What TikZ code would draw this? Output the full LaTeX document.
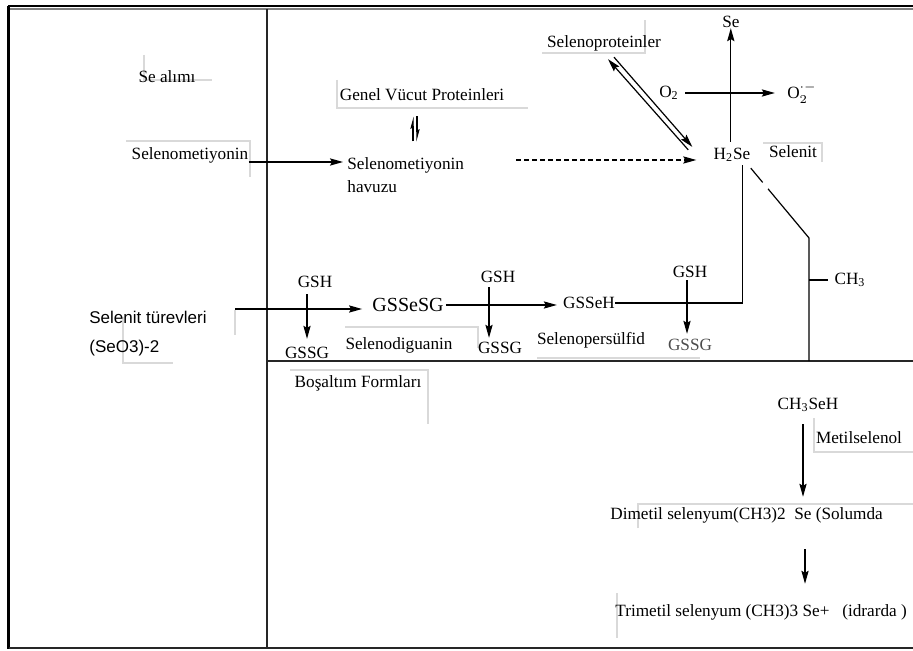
\documentclass[tikz,border=0pt]{standalone}
\usepackage{fontspec}
\setmainfont{Liberation Serif}
\newfontfamily\uifont{Liberation Sans}
\usetikzlibrary{arrows.meta,calc}
\tikzset{
  arr/.style={-{Stealth[length=6.5pt,width=3.6pt,inset=1pt]},line width=0.6pt},
  hup/.style={-{Stealth[harpoon,length=5pt,width=2.6pt,inset=0.6pt]},line width=0.6pt},
  frag/.style={gray!30,line width=0.6pt},
  rule/.style={line width=0.7pt,black!85}
}
\begin{document}
\begin{tikzpicture}[x=0.5pt,y=-0.5pt,font=\fontsize{8.6}{11.5}\selectfont,every node/.style={inner sep=0pt}]
\useasboundingbox (0,0) rectangle (913,651);
% frame and panels
\draw[line width=1.6pt] (8.5,6) -- (8.5,649);
\draw[line width=0.8pt] (8,6) -- (913,6);
\draw[line width=0.8pt,gray] (10,9) -- (913,9);
\draw[rule] (9,648) -- (913,648);
\draw[rule] (267,9) -- (267,648);
\draw[rule] (267,361) -- (913,361);
% left of text boxes
\draw[frag] (144,55)--(144,80)--(212,80) (337,80)--(337,108)--(528,108) (126,141)--(250,141)--(250,177)
  (542,53)--(645,53)--(645,20) (763,143)--(822,143)--(822,162) (123,317)--(123,363)--(173,363) (235,310)--(235,335)
  (345,327)--(478,327)--(478,348) (290,370)--(428,370)--(428,424) (537,358)--(700,358)
  (814,418)--(814,452)--(913,452) (638,528)--(638,504)--(913,504) (617,593)--(617,638);
% upper panel
\node (alim) at (167,77) {Se alımı};
\node (genel) at (422,95) {Genel Vücut Proteinleri};
\node (semet) at (190,155) {Selenometiyonin};
\node[anchor=west,align=left] (havuz) at (347,175) {Selenometiyonin\\havuzu};
\node (sprot) at (604,43) {Selenoproteinler};
\node (se) at (731,22) {Se};
\node (o2) at (669,93) {O\textsubscript{2}};
\node (o2r) at (802,93) {O$_2^{\cdot-}$};
\node (h2se) at (732,155) {H\textsubscript{2}Se};
\node (selenit) at (793,152) {Selenit};
\draw[arr,shorten >=2pt] ([yshift=-3.5pt]semet.east) -- ([yshift=-3.5pt]semet.east -| havuz.west);
\draw[hup] ($(genel.south)+(-9,40)$) -- ($(genel.south)+(-9,15)$);
\draw[hup] ($(genel.south)+(-5,15)$) -- ($(genel.south)+(-5,40)$);
\draw[arr,dash pattern=on 2.2pt off 1.8pt] ($(h2se.west)+(-197,5)$) -- ($(h2se.west)+(-17,5)$);
\draw[arr] ($(h2se.north west)+(-25,2)$) -- ($(sprot.south)+(4,8)$);
\draw[arr] ($(sprot.south)+(10,6)$) -- ($(h2se.north west)+(-21,-1)$);
\draw[arr,shorten <=3pt] ([xshift=-0.6pt]h2se.north) -- ([xshift=-0.6pt]h2se.north |- se.south);
\draw[arr,shorten <=3pt,shorten >=6pt] (o2.east) -- (o2r.west);
% selenit branch
\node[anchor=west,align=left,font=\uifont\fontsize{8.5}{14.5}\selectfont] (seltur) at (89,334) {Selenit türevleri\\(SeO3)-2};
\node[font=\fontsize{10}{12}\selectfont] (gssesg) at (408,305) {GSSeSG};
\node (gsh1) at (315,282) {GSH};
\node (gssg1) at (307,353) {GSSG};
\node (seldig) at (399,345) {Selenodiguanin};
\node (gsh2) at (498,277) {GSH};
\node (gssg2) at (500,348) {GSSG};
\node (gsseh) at (589,303) {GSSeH};
\node (selper) at (591,340) {Selenopersülfid};
\node (gsh3) at (690,272) {GSH};
\node[text=black!70] (gssg3) at (690,345) {GSSG};
\node (ch3) at (850,280) {CH\textsubscript{3}};
\coordinate (selin) at (235,309);
\draw[arr,shorten >=5pt] (selin) -- (selin -| gssesg.west);
\draw[arr,shorten <=1pt,shorten >=3pt] (gssesg.east) -- (gssesg.east -| gsseh.west);
\draw[arr,shorten <=3pt,shorten >=4pt] (gsh1.south -| gssg1.north) -- (gssg1.north);
\draw[arr,shorten <=2pt,shorten >=2pt] ([xshift=-4.5pt]gsh2.south) -- ([xshift=-4.5pt]gsh2.south |- gssg2.north);
\draw[arr,shorten <=1pt,shorten >=2.5pt] ([xshift=-1.5pt]gsh3.south) -- ([xshift=-1.5pt]gsh3.south |- gssg3.north);
\draw[line width=0.6pt] ($(h2se.south east)+(-8,3)$) |- (gsseh.east);
\coordinate (bend) at (809,238);
\draw[line width=0.6pt,dash pattern=on 9.3pt off 4.2pt on 400pt] ($(h2se.south east)+(0,6)$) -- (bend) -- (bend |- 0,361);
\draw[line width=0.6pt,shorten >=3pt] (bend |- ch3) -- (ch3.west);
% lower panel
\node (bosalt) at (358,383) {Boşaltım Formları};
\node (chse) at (808,405) {CH\textsubscript{3}SeH};
\node (metil) at (859,438) {Metilselenol};
\node[anchor=west] (dimetil) at (610,515) {Dimetil selenyum(CH3)2\ \ Se (Solumda};
\node[anchor=west] (trimetil) at (615,612) {Trimetil selenyum (CH3)3 Se+\ \ \ (idrarda )};
\draw[arr,shorten <=6pt,shorten >=5pt] ([xshift=-2.5pt]chse.south) -- ([xshift=-2.5pt]chse.south |- dimetil.north);
\draw[arr,shorten <=13pt,shorten >=10pt] ([xshift=-1.5pt]chse.south |- dimetil.south) -- ([xshift=-1.5pt]chse.south |- trimetil.north);
\end{tikzpicture}
\end{document}
